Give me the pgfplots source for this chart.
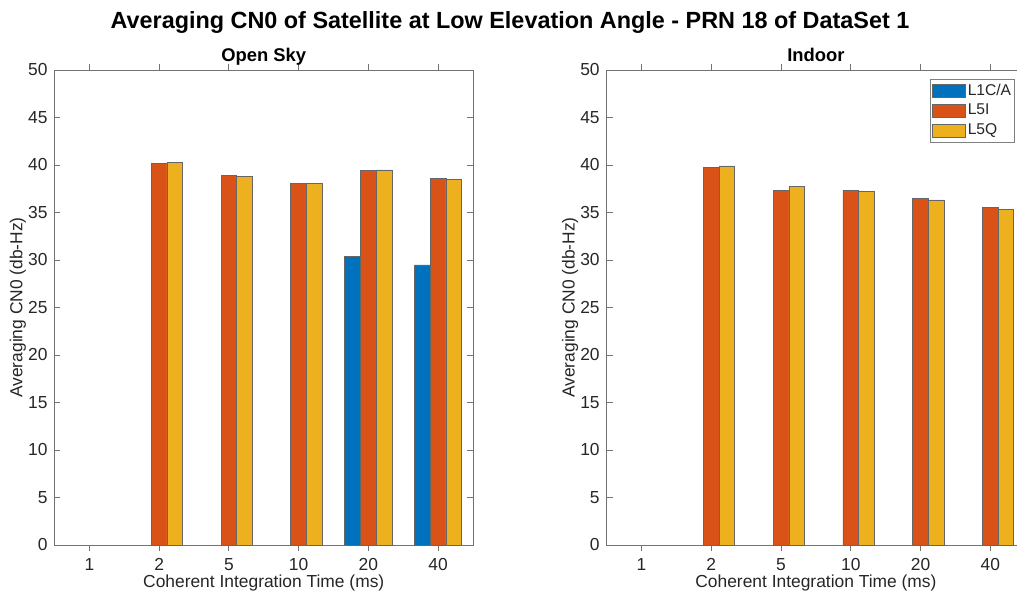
\documentclass[border=0pt]{standalone}
\usepackage{pgfplots}
\pgfplotsset{compat=1.18}
\usepackage{fontspec}
\setmainfont{Liberation Sans}
\definecolor{c1}{RGB}{0,114,189}
\definecolor{c2}{RGB}{217,83,25}
\definecolor{c3}{RGB}{237,177,32}
\pgfplotsset{
  mystyle/.style={
    scale only axis, width=209.25pt, height=237.5pt,
    xmin=0.5, xmax=6.5, ymin=0, ymax=50,
    xtick={1,2,3,4,5,6}, xticklabels={1,2,5,10,20,40},
    ytick={0,5,...,50},
    tick align=inside, major tick length=3pt,
    axis line style={black!55}, tick style={black!55, line width=0.4pt},
    tick label style={font=\fontsize{8.7}{10}\selectfont, text=black!85},
    label style={font=\fontsize{8.7}{10}\selectfont, text=black!85},
    xlabel style={yshift=4.5pt},
    ylabel style={yshift=-5.8pt},
    title style={font=\bfseries\fontsize{9.2}{11}\selectfont, at={(0.5,1)}, anchor=base, yshift=-1.5pt},
    xlabel={Coherent Integration Time (ms)}, ylabel={Averaging CN0 (db-Hz)},
    ybar=0pt, bar width=7.85pt,
    /pgf/number format/assume math mode=true,
  },
  barleg/.style={legend image code/.code={\draw[##1,bar shift=0pt] (0pt,-3.35pt) rectangle (16.5pt,3.35pt);}},
  s1/.style={fill=c1, draw=black!60, line width=0.4pt, bar shift=-7.85pt, barleg},
  s2/.style={fill=c2, draw=black!60, line width=0.4pt, bar shift=0pt, barleg},
  s3/.style={fill=c3, draw=black!60, line width=0.4pt, bar shift=7.85pt, barleg},
}
\begin{document}
\begin{tikzpicture}
\useasboundingbox (0,0) rectangle (508.5pt,297.5pt);
\clip (0,0) rectangle (508.5pt,297.5pt);
\node[font=\bfseries\fontsize{11.7}{14}\selectfont] at (255pt,286pt) {Averaging CN0 of Satellite at Low Elevation Angle - PRN 18 of DataSet 1};
\begin{axis}[mystyle, at={(27.25pt,25pt)}, anchor=south west, title={Open Sky}]
\addplot[s1] coordinates {(5,30.42) (6,29.48)};
\addplot[s2] coordinates {(2,40.15) (3,38.89) (4,38.02) (5,39.38) (6,38.54)};
\addplot[s3] coordinates {(2,40.24) (3,38.78) (4,38.09) (5,39.48) (6,38.44)};
\end{axis}
\begin{axis}[mystyle, at={(303.35pt,25pt)}, anchor=south west, title={Indoor},
  legend style={at={(0.976,0.981)}, anchor=north east, draw=black!50,
    font=\fontsize{7.8}{9}\selectfont, text=black!85, row sep=0.6pt,
    inner xsep=0.8pt, inner ysep=1pt, nodes={inner xsep=1pt, inner ysep=1.2pt}},
  legend cell align=left]
\addlegendimage{s1}
\addlegendentry{L1C/A}
\addplot[s2] coordinates {(2,39.76) (3,37.36) (4,37.36) (5,36.46) (6,35.49)};
\addlegendentry{L5I}
\addplot[s3] coordinates {(2,39.90) (3,37.74) (4,37.26) (5,36.32) (6,35.35)};
\addlegendentry{L5Q}
\end{axis}
\end{tikzpicture}
\end{document}
